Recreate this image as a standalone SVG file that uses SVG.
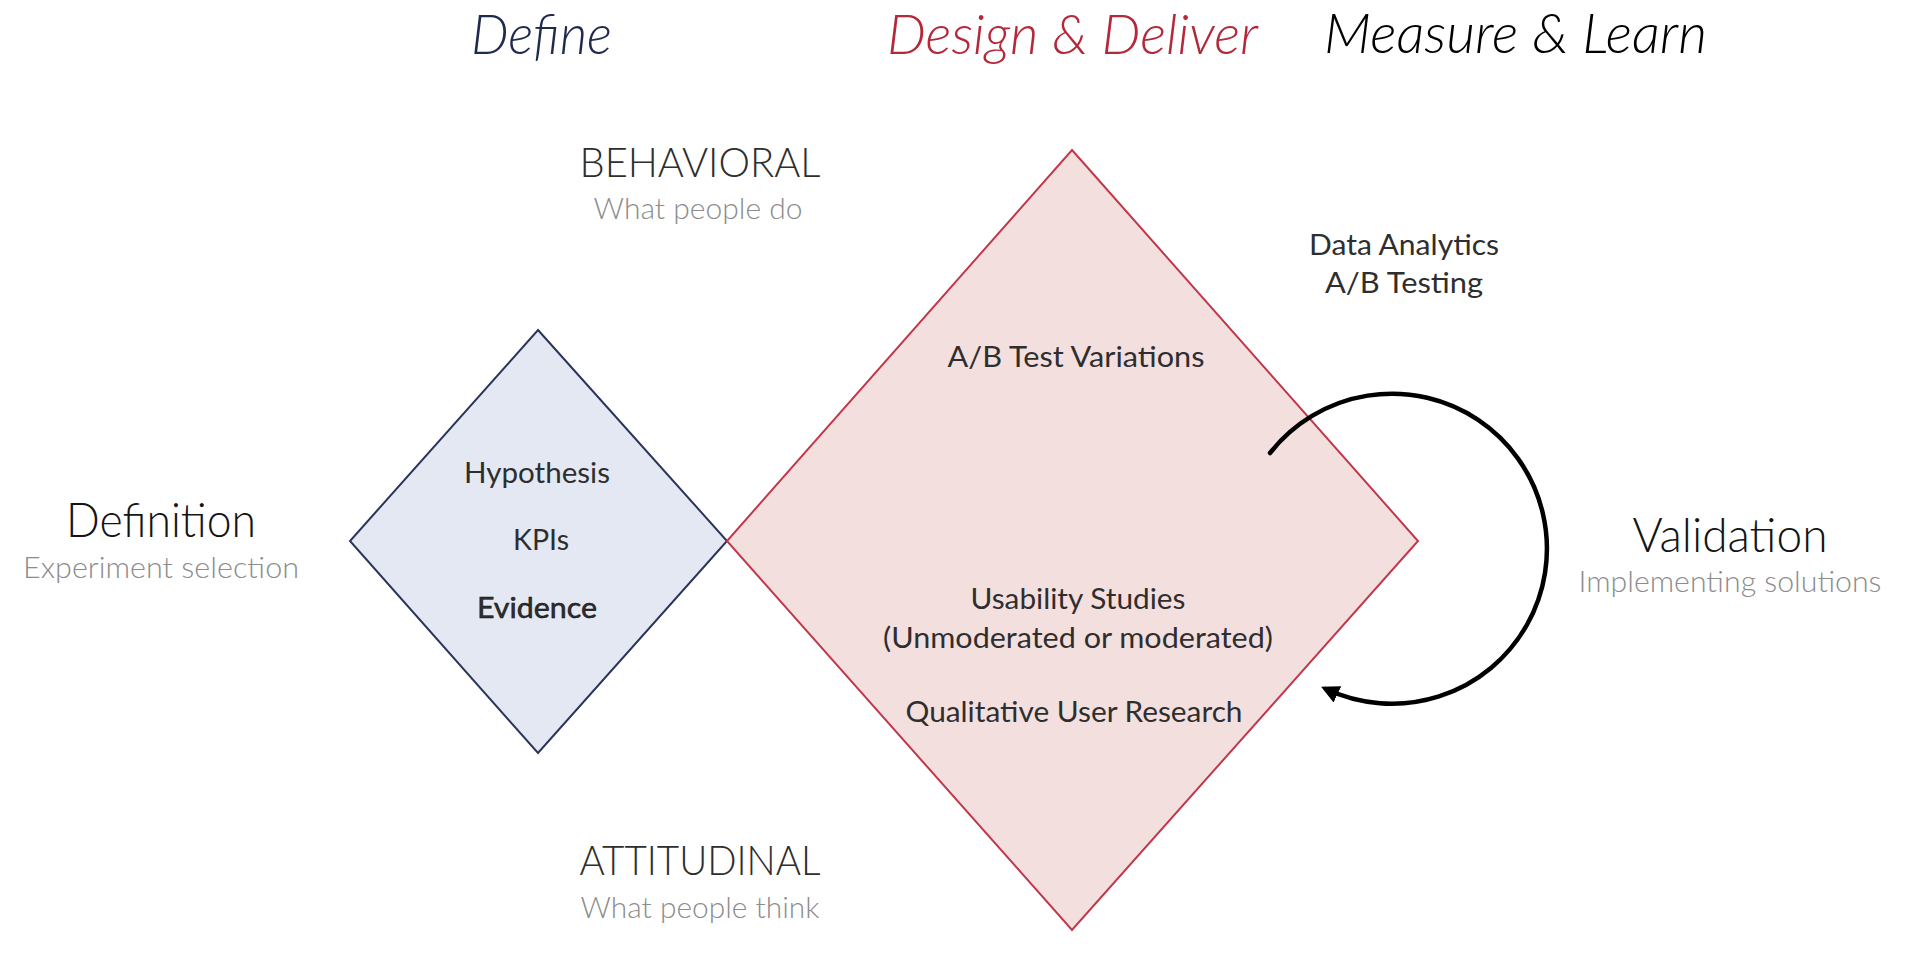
<svg xmlns="http://www.w3.org/2000/svg" width="1920" height="974" viewBox="0 0 1920 974">
<defs>
<style>
.script{font-family:Lato,"Open Sans","DejaVu Sans",sans-serif;font-style:italic;font-weight:300;font-size:56px}
.t{font-family:Lato,"Noto Sans","Liberation Sans",sans-serif;fill:#2e2e2e;text-anchor:middle}
.sub{font-family:Lato,"Noto Sans","Liberation Sans",sans-serif;fill:#8c8c8c;font-weight:300;text-anchor:middle;font-size:30px}
.big{font-size:48px;font-weight:300;fill:#141414}
.cap{font-size:42px;font-weight:300}
.body{font-size:29px;font-weight:400}
</style>
<marker id="ah" viewBox="0 0 10 10" refX="7" refY="5" markerWidth="4" markerHeight="4" orient="auto" markerUnits="strokeWidth">
<path d="M0,0 L10,5 L0,10 z" fill="#000"/>
</marker>
</defs>
<rect width="1920" height="974" fill="#fff"/>

<g id="headers">
<text class="script" x="471" y="54" fill="#1f2a4f" textLength="141" lengthAdjust="spacingAndGlyphs">Define</text>
<text class="script" x="887" y="54" fill="#b5283a" textLength="371" lengthAdjust="spacingAndGlyphs">Design &amp; Deliver</text>
<text class="script" x="1324" y="53" fill="#000" textLength="383" lengthAdjust="spacingAndGlyphs">Measure &amp; Learn</text>
</g>

<g id="axis-labels">
<text class="t cap" x="700" y="177" textLength="241" lengthAdjust="spacingAndGlyphs">BEHAVIORAL</text>
<text class="sub" x="698" y="219" textLength="209" lengthAdjust="spacingAndGlyphs">What people do</text>
<text class="t cap" x="700" y="875" textLength="241" lengthAdjust="spacingAndGlyphs">ATTITUDINAL</text>
<text class="sub" x="700" y="918" textLength="239" lengthAdjust="spacingAndGlyphs">What people think</text>
</g>

<g id="definition-label">
<text class="t big" x="161" y="537" textLength="190" lengthAdjust="spacingAndGlyphs">Definition</text>
<text class="sub" x="161" y="578" textLength="276" lengthAdjust="spacingAndGlyphs">Experiment selection</text>
</g>

<g id="define-diamond">
<polygon points="538,330 727,541 538,753 350,541" fill="#e4e8f3" stroke="#2b345a" stroke-width="2"/>
<text class="t body" x="537" y="483" textLength="146" lengthAdjust="spacingAndGlyphs">Hypothesis</text>
<text class="t body" x="541" y="550" textLength="56" lengthAdjust="spacingAndGlyphs">KPIs</text>
<text class="t body" x="537" y="618" fill="#0d0d0d" stroke="#0d0d0d" stroke-width="0.5" textLength="120" lengthAdjust="spacingAndGlyphs">Evidence</text>
</g>

<g id="design-diamond">
<polygon points="1072,150 1418,541 1072,930 727,541" fill="#f4dfdf" stroke="#c0384a" stroke-width="2"/>
<text class="t body" x="1076" y="367" textLength="257" lengthAdjust="spacingAndGlyphs">A/B Test Variations</text>
<text class="t body" x="1078" y="609" textLength="215" lengthAdjust="spacingAndGlyphs">Usability Studies</text>
<text class="t body" x="1078" y="648" textLength="390" lengthAdjust="spacingAndGlyphs">(Unmoderated or moderated)</text>
<text class="t body" x="1074" y="722" textLength="337" lengthAdjust="spacingAndGlyphs">Qualitative User Research</text>
</g>

<g id="measure-labels">
<text class="t body" x="1404" y="255" textLength="190" lengthAdjust="spacingAndGlyphs">Data Analytics</text>
<text class="t body" x="1404" y="293" textLength="158" lengthAdjust="spacingAndGlyphs">A/B Testing</text>
</g>

<g id="validation-label">
<text class="t big" x="1730" y="552" textLength="195" lengthAdjust="spacingAndGlyphs">Validation</text>
<text class="sub" x="1730" y="592" textLength="303" lengthAdjust="spacingAndGlyphs">Implementing solutions</text>
</g>

<g id="connectors">
<path d="M1270,453 A155,155 0 1 1 1326,689" fill="none" stroke="#000" stroke-width="4.5" stroke-linecap="round" marker-end="url(#ah)"/>
</g>
</svg>
